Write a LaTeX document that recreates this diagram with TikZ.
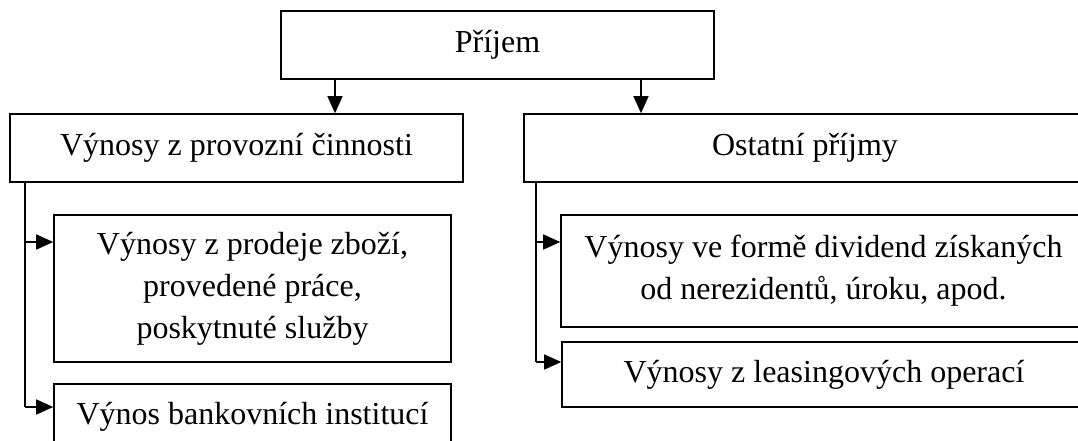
\documentclass[tikz,border=0pt]{standalone}
\usepackage{fontspec}
\setmainfont{Liberation Serif}
\usetikzlibrary{arrows.meta, positioning}
\tikzstyle{box} = [rectangle, draw=black, line width=1.6pt, inner sep=0pt, align=center, font=\fontsize{32}{42}\selectfont]
\tikzstyle{line} = [line width=1.6pt]
\tikzstyle{arrow} = [line width=1.6pt, -{Triangle[length=17pt, width=15pt]}]

\begin{document}
\begin{tikzpicture}[x=1pt, y=-1pt]
\useasboundingbox (0,0) rectangle (1078,441);
\clip (0,0) rectangle (1078,441);
\node (prijem) [box, minimum width=433pt, minimum height=68pt] at (497.5,45) {Příjem};
\node (prov) [box, minimum width=453pt, minimum height=68pt] at (236.5,148) {Výnosy z provozní činnosti};
\node (ostatni) [box, minimum width=562pt, minimum height=68pt] at (805,148) {Ostatní příjmy};
\node (zbozi) [box, minimum width=397pt, minimum height=147pt] at (252.5,288.5) {Výnosy z prodeje zboží,\\provedené práce,\\poskytnuté služby};
\node (bank) [box, minimum width=397pt, minimum height=66pt] at (252.5,417) {Výnos bankovních institucí};
\node (divid) [box, minimum width=525pt, minimum height=112pt] at (823.5,271) {Výnosy ve formě dividend získaných\\od nerezidentů, úroku, apod.};
\node (leasing) [box, minimum width=524pt, minimum height=65pt] at (824,374.5) {Výnosy z leasingových operací};

\coordinate (pl) at (335,0);
\coordinate (pr) at (641,0);
\draw[arrow] (prijem.south -| pl) -- (prov.north -| pl);
\draw[arrow] (prijem.south -| pr) -- (ostatni.north -| pr);

% levá větev
\coordinate (l1) at (25,242);
\coordinate (l2) at (25,407);
\draw[line] (prov.south -| l1) -- (l2);
\draw[arrow] (l1) -- (l1 -| zbozi.west);
\draw[arrow] (l2) -- (l2 -| bank.west);

% pravá větev
\coordinate (r1) at (536,242);
\coordinate (r2) at (536,362);
\draw[line] (ostatni.south -| r1) -- (r2);
\draw[arrow] (r1) -- (r1 -| divid.west);
\draw[arrow] (r2) -- (r2 -| leasing.west);
\end{tikzpicture}
\end{document}
